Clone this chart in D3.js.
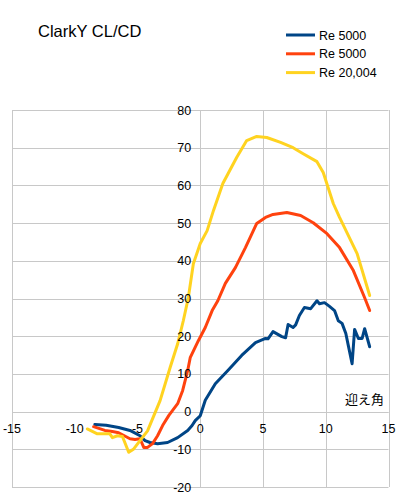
<!DOCTYPE html>
<html><head><meta charset="utf-8">
<script src="https://cdn.jsdelivr.net/npm/d3@7"></script>
<style>body{margin:0;background:#fff}svg{display:block}text{font-family:"Liberation Sans",Arial,sans-serif;fill:#000}</style>
</head><body><svg id="c" width="400" height="500"></svg>
<script>
const title = "ClarkY CL/CD";
const xLabel = "迎え角";
const seriesNames = ["Re 5000", "Re 5000", "Re 20,004"];
const seriesColors = ["#004586", "#ff420e", "#ffd320"];
const xTicks = [-15, -10, -5, 0, 5, 10, 15];
const yTicks = [-20, -10, 0, 10, 20, 30, 40, 50, 60, 70, 80];
const xGridValues = [-15, 5, 10, 15];

const blueX = [-8.4,-7.5,-6.5,-5.6,-4.8,-4.4,-4.0,-3.4,-2.6,-1.8,-1.0,-0.65,-0.4,0,0.4,1.2,2.2,3.3,4.4,5.2,5.4,5.8,6.5,6.8,7.0,7.4,7.6,7.9,8.3,8.8,9.3,9.5,9.9,10.3,10.7,11.0,11.3,11.6,11.8,12.1,12.3,12.6,12.9,13.1,13.5];
const blueY = [-3.4,-3.6,-4.2,-5.0,-6.4,-7.7,-8.2,-8.5,-8.2,-6.9,-5.0,-3.7,-2.4,-1.1,3.0,7.4,10.9,14.9,18.3,19.4,19.3,21.2,19.9,19.6,23.1,22.3,23.0,25.5,27.6,27.3,29.4,28.6,28.9,27.9,26.8,24.1,23.4,20.7,17.5,12.7,21.8,19.4,19.4,22.0,17.2];

const redX = [-8.5,-7.6,-7.0,-6.5,-5.6,-5.2,-4.8,-4.5,-4.2,-3.8,-3.4,-3.0,-2.5,-1.8,-1.4,-1.0,-0.8,-0.15,0.4,0.95,1.4,2.0,2.8,3.6,4.5,5.2,5.8,6.9,8.0,9.0,10.1,11.1,12.2,13.1,13.5];
const redY = [-4.0,-5.0,-5.3,-5.6,-7.2,-7.4,-7.2,-9.5,-9.5,-8.5,-6.4,-3.7,-1.0,2.1,5.6,10.9,14.3,18.8,22.3,26.8,29.4,34.0,38.2,43.5,49.9,51.5,52.3,52.8,52.0,50.1,47.2,43.5,37.4,30.2,26.8];

const yelX = [-9.0,-8.2,-7.2,-7.0,-6.6,-6.2,-5.7,-5.3,-4.8,-4.2,-3.2,-2.4,-1.8,-1.35,-0.95,-0.55,0,0.55,1.05,1.8,2.9,3.7,4.5,5.3,6.4,7.4,8.2,9.3,9.8,10.6,11.1,12.5,13.5];
const yelY = [-4.6,-5.9,-5.9,-6.9,-6.4,-6.6,-10.8,-9.9,-7.7,-5.1,2.9,11.7,18.0,24.1,30.2,39.2,44.6,48.0,53.3,60.5,67.4,71.9,73.0,72.7,71.4,70.0,68.4,66.3,63.4,55.2,51.5,41.9,30.8];

const seriesX = [blueX, redX, yelX];
const seriesY = [blueY, redY, yelY];

const svg = d3.select("#c");
const x = d3.scaleLinear().domain([-15, 15]).range([12, 388.5]);
const y = d3.scaleLinear().domain([-20, 80]).range([487, 110]);
const grid = "#c8c8c8";

svg.append("g").selectAll("line").data(yTicks).join("line")
  .attr("x1", x(-15)).attr("x2", x(15))
  .attr("y1", d => Math.round(y(d)) + 0.5).attr("y2", d => Math.round(y(d)) + 0.5)
  .attr("stroke", grid).attr("stroke-width", 1);
svg.append("g").selectAll("line").data(xGridValues).join("line")
  .attr("x1", d => Math.round(x(d)) + 0.5).attr("x2", d => Math.round(x(d)) + 0.5)
  .attr("y1", y(80)).attr("y2", y(-20))
  .attr("stroke", grid).attr("stroke-width", 1);
svg.append("line").attr("x1", Math.round(x(0)) + 0.5).attr("x2", Math.round(x(0)) + 0.5)
  .attr("y1", y(80)).attr("y2", y(-20)).attr("stroke", grid);
svg.append("line").attr("x1", x(-15)).attr("x2", x(15))
  .attr("y1", Math.round(y(0)) + 0.5).attr("y2", Math.round(y(0)) + 0.5).attr("stroke", grid);

const line = d3.line().x(d => x(d[0])).y(d => y(d[1]));
seriesX.forEach((xs, i) => {
  const pts = xs.map((v, j) => [v, seriesY[i][j]]);
  svg.append("path").datum(pts).attr("d", line)
    .attr("fill", "none").attr("stroke", seriesColors[i])
    .attr("stroke-width", 3).attr("stroke-linejoin", "round").attr("stroke-linecap", "round");
});

svg.append("g").selectAll("text").data(yTicks).join("text")
  .attr("x", x(0) - 9).attr("y", d => y(d) + 4.5)
  .attr("text-anchor", "end").attr("font-size", 12.5).text(d => d);
svg.append("g").selectAll("text").data(xTicks).join("text")
  .attr("x", d => x(d)).attr("y", y(0) + 21)
  .attr("text-anchor", "middle").attr("font-size", 12.5).text(d => d);

svg.append("text").attr("x", 345).attr("y", 404).attr("font-size", 13)
  .style("font-family", '"Noto Sans CJK JP",sans-serif').text(xLabel);

svg.append("text").attr("x", 38).attr("y", 37).attr("font-size", 16.5).text(title);

seriesNames.forEach((n, i) => {
  const ly = 35 + i * 18.8;
  svg.append("line").attr("x1", 286).attr("x2", 315).attr("y1", ly).attr("y2", ly)
    .attr("stroke", seriesColors[i]).attr("stroke-width", 3);
  svg.append("text").attr("x", 319).attr("y", ly + 4.5).attr("font-size", 12.5).text(n);
});
</script></body></html>
